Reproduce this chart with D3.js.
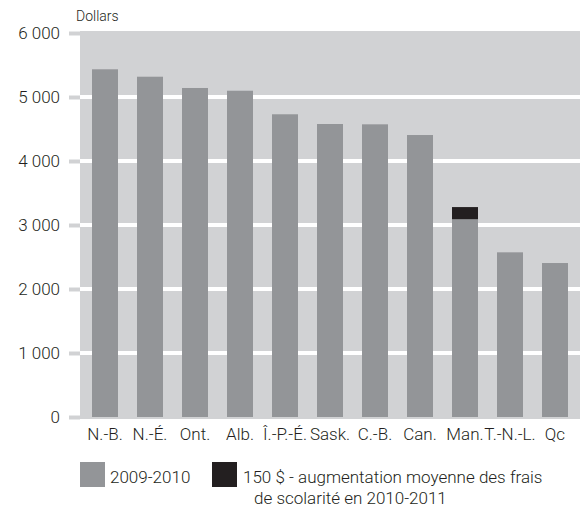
<!DOCTYPE html>
<html><head><meta charset="utf-8">
<script src="https://cdn.jsdelivr.net/npm/d3@7"></script>
<style>
body{margin:0;background:#fff;}
text{font-family:Roboto,"Open Sans",sans-serif;font-weight:300;fill:#231f20;}
</style></head>
<body><svg id="c" width="582" height="510"></svg>
<script>
const categories = ["N.-B.","N.-É.","Ont.","Alb.","Î.-P.-É.","Sask.","C.-B.","Can.","Man.","T.-N.-L.","Qc"];
const values2009 = [5433,5317,5141,5098,4730,4578,4573,4406,3090,2573,2406];
const increase2010 = [0,0,0,0,0,0,0,0,190,0,0];
const tickValues = [0,1000,2000,3000,4000,5000,6000];
const tickLabels = ["0","1 000","2 000","3 000","4 000","5 000","6 000"];
const legendLabels = ["2009-2010","150 $ - augmentation moyenne des frais","de scolarité en 2010-2011"];

const svg = d3.select("#c");
const x = d3.scaleBand().domain(categories).range([80,580]).paddingInner(0.4222).paddingOuter(0.2667);
const y = d3.scaleLinear().domain([0,6000]).range([417,33]);

// background
svg.append("rect").attr("x",80).attr("y",y(6000)-2).attr("width",500).attr("height",y(0)-y(6000)+4).attr("fill","#d1d2d4");

// ticks + gridlines
const yAxis = d3.axisLeft(y).tickValues(tickValues).tickSize(11).tickPadding(9)
  .tickFormat((d,i)=>tickLabels[i]);
const ga = svg.append("g").attr("transform","translate(80,0)").call(yAxis);
ga.select(".domain").remove();
ga.selectAll(".tick line").attr("stroke","#d1d2d4").attr("stroke-width",4);
ga.selectAll(".tick text").style("font-size","17px").style("font-family","Roboto,sans-serif").style("font-weight","300").attr("fill","#231f20");
svg.append("g").selectAll("line").data(tickValues.filter(d=>d>0&&d<6000)).join("line")
  .attr("x1",80).attr("x2",580).attr("y1",d=>y(d)).attr("y2",d=>y(d))
  .attr("stroke","#fff").attr("stroke-width",4);

// bars
svg.append("g").selectAll("rect").data(categories).join("rect")
  .attr("x",d=>x(d)).attr("width",x.bandwidth())
  .attr("y",(d,i)=>y(values2009[i])).attr("height",(d,i)=>y(0)-y(values2009[i]))
  .attr("fill","#939598");
svg.append("g").selectAll("rect").data(categories.filter((d,i)=>increase2010[i]>0)).join("rect")
  .attr("x",d=>x(d)).attr("width",x.bandwidth())
  .attr("y",d=>{const i=categories.indexOf(d);return y(values2009[i]+increase2010[i]);})
  .attr("height",d=>{const i=categories.indexOf(d);return y(values2009[i])-y(values2009[i]+increase2010[i]);})
  .attr("fill","#231f20");

// x labels
svg.append("g").selectAll("text").data(categories).join("text")
  .attr("x",d=>x(d)+x.bandwidth()/2).attr("y",440).attr("text-anchor","middle")
  .style("font-size","17px").text(d=>d);

// y title
svg.append("text").attr("x",76).attr("y",21).style("font-size","14px").text("Dollars");

// legend
svg.append("rect").attr("x",80).attr("y",462).attr("width",25).attr("height",25).attr("fill","#939598");
svg.append("text").attr("x",110).attr("y",483).style("font-size","17px").text(legendLabels[0]);
svg.append("rect").attr("x",212).attr("y",462).attr("width",25).attr("height",25).attr("fill","#231f20");
svg.append("text").attr("x",243).attr("y",483).style("font-size","17px").text(legendLabels[1]);
svg.append("text").attr("x",254).attr("y",504).style("font-size","17px").text(legendLabels[2]);
</script></body></html>
